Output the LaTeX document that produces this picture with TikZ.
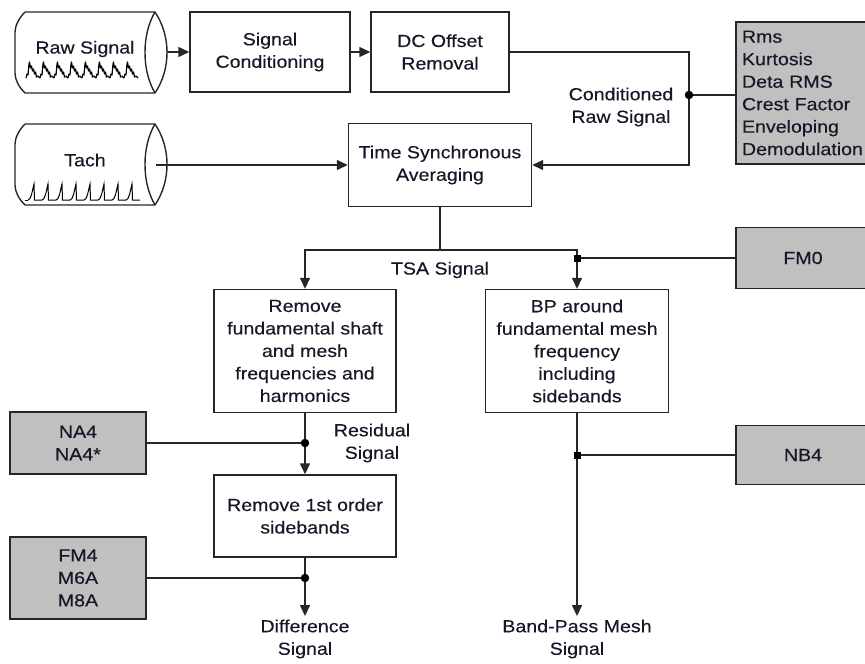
\documentclass[tikz,border=0pt]{standalone}
\usepackage{fontspec}
\setmainfont[FakeStretch=1.12,FakeBold=0.3]{Liberation Sans}
\usetikzlibrary{arrows.meta}
\definecolor{boxgray}{RGB}{192,192,192}
\definecolor{txt}{RGB}{22,24,40}

\tikzset{
  every node/.style={font=\fontsize{17.5}{22.5}\selectfont, text=txt, align=center},
  blk/.style={draw=black!85, line width=1.4pt, inner sep=2pt},
  gblk/.style={blk, fill=boxgray},
  arr/.style={-{Triangle[length=11pt,width=10pt]}},
  lnk/.style={line width=1.4pt, draw=black!85},
  drum/.pic={
    \draw[lnk, line join=round] (25,12) -- (155,12)
      .. controls (163,24) and (167,38) .. (167,52.5)
      .. controls (167,67) and (163,81) .. (155,93) -- (25,93)
      .. controls (19,87) and (15,80) .. (15,73) -- (15,32)
      .. controls (15,26) and (19,18) .. (25,12);
    \draw[lnk] (155,12) .. controls (148,24) and (145,38) .. (145,52.5)
      .. controls (145,67) and (148,81) .. (155,93);
  }
}

\begin{document}
\begin{tikzpicture}[x=1pt,y=-1pt]
    \useasboundingbox (0,0) rectangle (865,664);
    \clip (0,0) rectangle (865,664);

    % 入力信号
    \pic at (0,0) {drum};
    \pic at (0,112) {drum};
    \node (raw) at (85,49) {Raw Signal};
    \node (tach) at (85,160) {Tach};
    \foreach \k in {0,...,7}
      \draw[line width=1.2pt, line join=round, shift={(26+14*\k,78)}] plot coordinates {(0,0) (1,-4) (2,-3) (3,-14) (3.5,-16) (4.5,-10) (5.5,-12) (6.5,-7) (7.5,-9) (8.5,-4) (9.5,-6) (10.5,-1) (12,-2) (14,0)};
    \draw[line width=1pt] (25,200) -- (28,200);
    \foreach \k in {0,...,7}
      \draw[line width=1pt, shift={(28+14*\k,200)}] (0,0) .. controls (3,0) and (4,-8) .. (6,-16) -- (6.5,0) -- (14,0);
    \coordinate (rawout) at (167,52);
    \coordinate (tachout) at (156,165);

    % 前処理
    \node[blk, minimum width=160pt, minimum height=80pt] (cond) at (270,52) {Signal\\Conditioning};
    \node[blk, minimum width=138pt, minimum height=80pt] (dc) at (440,52) {DC Offset\\Removal};
    \node[blk, minimum width=183pt, minimum height=83pt] (tsa) at (440,165) {Time Synchronous\\Averaging};

    % 処理ブロック
    \node[blk, minimum width=182pt, minimum height=123pt] (resid) at (305,351) {Remove\\fundamental shaft\\and mesh\\frequencies and\\harmonics};
    \node[blk, minimum width=183pt, minimum height=123pt] (bp) at (577,351) {BP around\\fundamental mesh\\frequency\\including\\sidebands};
    \node[blk, minimum width=182pt, minimum height=82pt] (first) at (305,516) {Remove 1st order\\sidebands};

    % 指標
    \node[gblk, minimum width=140pt, minimum height=142pt, text width=128pt, align=left, inner xsep=6pt] (stats) at (806,93) {Rms\\Kurtosis\\Deta RMS\\Crest Factor\\Enveloping\\Demodulation};
    \node[gblk, minimum width=134pt, minimum height=61pt] (fmzero) at (803,258) {FM0};
    \node[gblk, minimum width=134pt, minimum height=59pt] (nbfour) at (803,455) {NB4};
    \node[gblk, minimum width=136pt, minimum height=62pt] (nafour) at (78,443) {NA4\\NA4*};
    \node[gblk, minimum width=136pt, minimum height=82pt] (fmfour) at (78,578) {FM4\\M6A\\M8A};

    % 信号名
    \node (crs) at (621,107) {Conditioned\\Raw Signal};
    \node (tsalbl) at (440,270) {TSA Signal};
    \node (reslbl) at (372,443) {Residual\\Signal};
    \node (diff) at (305,639) {Difference\\Signal};
    \node (bpm) at (577,639) {Band-Pass Mesh\\Signal};

    % 分岐点
    \coordinate (j1) at (689,95);
    \coordinate (split) at (440,250);
    \coordinate (j2) at (577,258);
    \coordinate (j3) at (305,443);
    \coordinate (j4) at (577,455);
    \coordinate (j5) at (305,578);

    % 接続
    \draw[lnk, arr] (rawout) -- (cond.west);
    \draw[lnk, arr] (cond.east) -- (dc.west);
    \draw[lnk, arr] (dc.east) -| (j1) |- (tsa.east);
    \draw[lnk] (j1) -- (j1 -| stats.west);
    \draw[lnk, arr] (tachout) -- (tachout -| tsa.west);
    \draw[lnk] (tsa.south) -- (split);
    \draw[lnk, arr] (split) -| (resid.north);
    \draw[lnk, arr] (split) -| (bp.north);
    \draw[lnk] (j2) -- (j2 -| fmzero.west);
    \draw[lnk, arr] (resid.south) -- (first.north);
    \draw[lnk] (nafour.east |- j3) -- (j3);
    \draw[lnk, arr] (first.south) -- (diff.north);
    \draw[lnk] (fmfour.east |- j5) -- (j5);
    \draw[lnk, arr] (bp.south) -- (bpm.north);
    \draw[lnk] (j4) -- (j4 -| nbfour.west);

    \filldraw[black] (j1) circle (4pt);
    \filldraw[black] (j3) circle (4pt);
    \filldraw[black] (j5) circle (4pt);
    \fill[black] (j2) +(-3.5,-3.5) rectangle +(3.5,3.5);
    \fill[black] (j4) +(-3.5,-3.5) rectangle +(3.5,3.5);
\end{tikzpicture}
\end{document}
